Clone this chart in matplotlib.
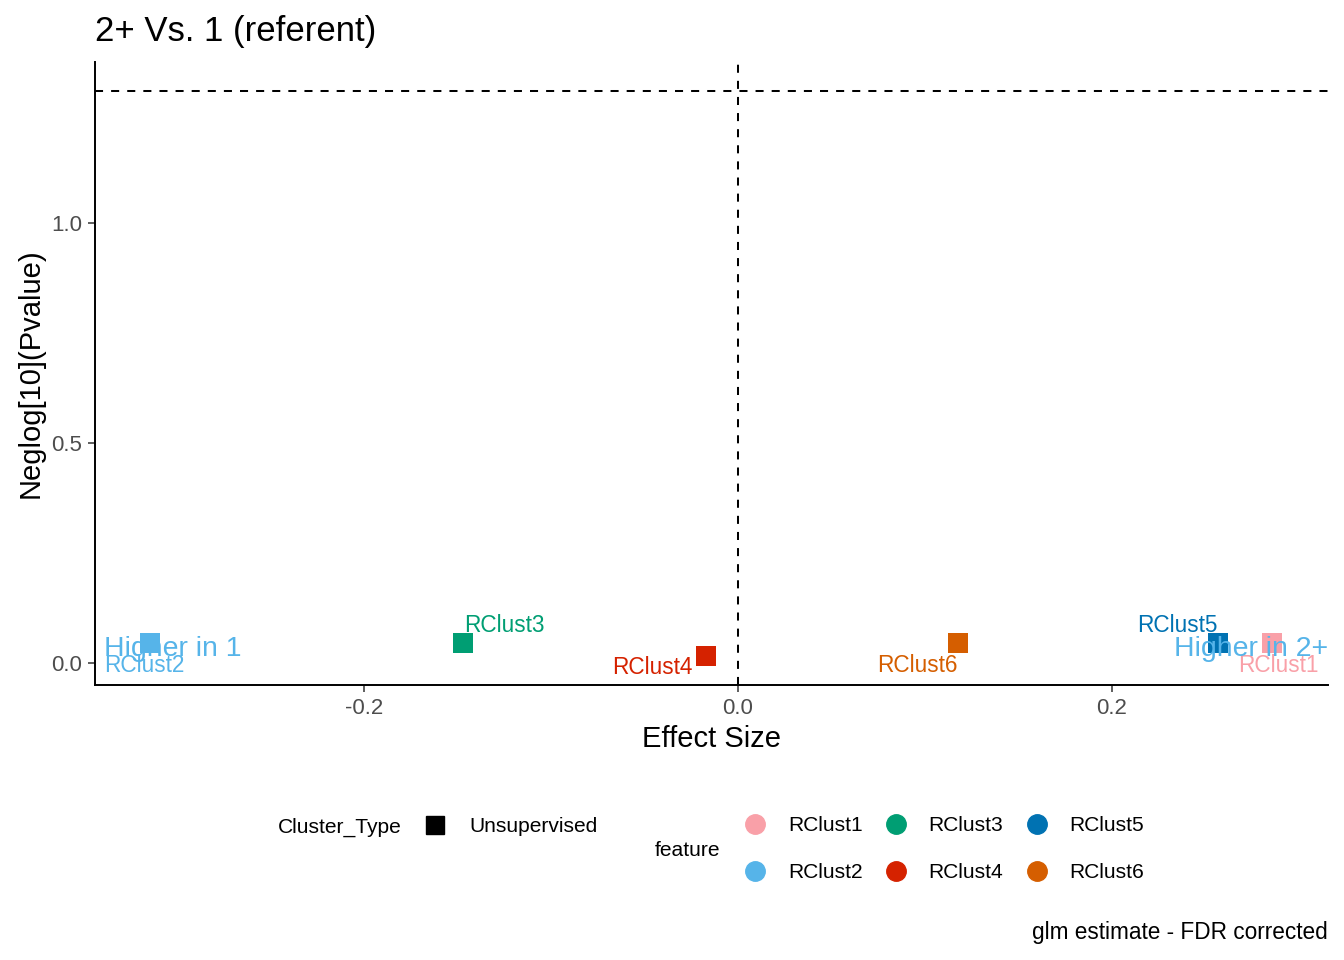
import matplotlib
matplotlib.use("Agg")
import matplotlib.pyplot as plt
import matplotlib.transforms as mtransforms
from matplotlib.lines import Line2D

plt.rcParams['font.family'] = ['Liberation Sans', 'DejaVu Sans']

# ---- data ----
features = ["RClust1", "RClust2", "RClust3", "RClust4", "RClust5", "RClust6"]
effect = [0.286, -0.315, -0.147, -0.017, 0.257, 0.118]
neglogp = [0.045, 0.045, 0.045, 0.016, 0.045, 0.045]
colors = ["#F9A0A8", "#56B4E9", "#009E73", "#D52200", "#0072B2", "#D55E00"]
threshold = 1.30103  # -log10(0.05)
x_ticks = [-0.2, 0.0, 0.2]
y_ticks = [0.0, 0.5, 1.0]

# label offsets in pixels (layout only)
label_offsets = {
    "RClust1": (6, -22), "RClust2": (-5, -22), "RClust3": (41, 18),
    "RClust4": (-54, -12), "RClust5": (-41, 18), "RClust6": (-41, -22),
}

W, H = 1344, 960
fig = plt.figure(figsize=(W / 100, H / 100), dpi=100)
l, r, t, b = 95, 1328, 62, 685
ax = fig.add_axes([l / W, (H - b) / H, (r - l) / W, (b - t) / H])

ax.set_xlim(-0.3443, 0.3159)
ax.set_ylim(-0.05, 1.366)

ax.axvline(0, color="black", lw=1.45, ls=(0, (4, 4)), zorder=1)
ax.axhline(threshold, color="black", lw=1.45, ls=(0, (4, 4)), zorder=1)

for f, x, y, c in zip(features, effect, neglogp, colors):
    ax.scatter([x], [y], marker="s", s=190, color=c, zorder=3, linewidths=0)
    dx, dy = label_offsets[f]
    ax.annotate(f, (x, y), xytext=(dx, dy), textcoords="offset pixels",
                ha="center", va="center", color=c, fontsize=16.3, zorder=4)

trans = mtransforms.blended_transform_factory(ax.transAxes, ax.transData)
ax.text(0.0073, 0.032, "Higher in 1", transform=trans, ha="left", va="center",
        color="#56B4E9", fontsize=20.5, zorder=5)
ax.text(1.0, 0.032, "Higher in 2+", transform=trans, ha="right", va="center",
        color="#56B4E9", fontsize=20.5, zorder=5)

for s in ["top", "right"]:
    ax.spines[s].set_visible(False)
for s in ["left", "bottom"]:
    ax.spines[s].set_linewidth(1.4)
    ax.spines[s].set_color("black")

ax.set_xticks(x_ticks)
ax.set_xticklabels([f"{v:.1f}" for v in x_ticks])
ax.set_yticks(y_ticks)
ax.set_yticklabels([f"{v:.1f}" for v in y_ticks])
ax.tick_params(axis="both", length=5, width=1.1, color="#333333",
               labelcolor="#4D4D4D", labelsize=16, pad=4)

ax.set_xlabel("Effect Size", fontsize=21, labelpad=5)
ax.set_ylabel("Neglog[10](Pvalue)", fontsize=21, labelpad=5)
fig.text(l / W, 1 - 32 / H, "2+ Vs. 1 (referent)", fontsize=25, ha="left", va="center")
fig.text(1328 / W, 1 - 933 / H, "glm estimate - FDR corrected", fontsize=16.3,
         ha="right", va="center")

# ---- legends ----
fig.text(278 / W, 1 - 827 / H, "Cluster_Type", fontsize=15.1, ha="left", va="center")
h1 = [Line2D([], [], marker="s", ls="", color="black", markersize=13)]
leg1 = fig.legend(h1, ["Unsupervised"], loc="center left",
                  bbox_to_anchor=(425 / W, 1 - 827 / H), frameon=False,
                  fontsize=15.1, handlelength=1.0, handletextpad=1.1,
                  borderpad=0, borderaxespad=0)

fig.text(655 / W, 1 - 850 / H, "feature", fontsize=15.1, ha="left", va="center")
h2 = [Line2D([], [], marker="o", ls="", color=c, markersize=14) for c in colors]
leg2 = fig.legend(h2, features, loc="center left", ncol=3,
                  bbox_to_anchor=(745 / W, 1 - 849 / H), frameon=False,
                  fontsize=15.1, handlelength=1.0, handletextpad=1.05,
                  columnspacing=1.1, labelspacing=1.32,
                  borderpad=0, borderaxespad=0)

fig.savefig("out.png", dpi=100)
